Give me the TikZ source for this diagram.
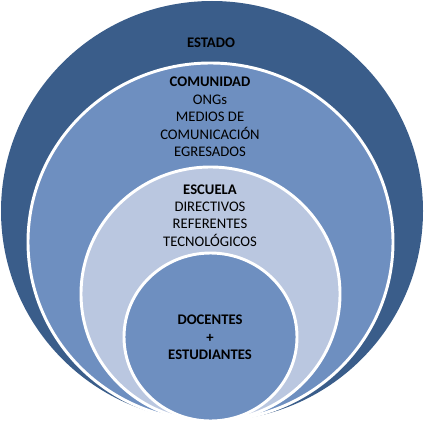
\documentclass[tikz,border=0pt]{standalone}
\usepackage{fontspec}
\setmainfont{Carlito}
\usepackage{tikz}

\definecolor{estadoblue}{HTML}{3A5D8A}
\definecolor{midblue}{HTML}{6E8FC0}
\definecolor{paleblue}{HTML}{BAC7E0}

\tikzset{
  ring/.style={draw=white,line width=2.2pt},
  label/.style={align=center,text=black,font=\fontsize{11}{13.1}\selectfont,inner sep=0pt}
}

\begin{document}
\begin{tikzpicture}[x=0.75pt,y=-0.75pt]
\useasboundingbox (0,0) rectangle (424,424);
% Circles
\fill[estadoblue] (212,211) ellipse [x radius=211,y radius=210];
\filldraw[ring,fill=midblue] (210.5,242) ellipse [x radius=182.5,y radius=179];
\filldraw[ring,fill=paleblue] (210.5,294) ellipse [x radius=129.5,y radius=127];
\filldraw[ring,fill=midblue] (210.5,337) ellipse [x radius=86.5,y radius=84];
% Labels
\node[label] (estado) at (211,43) {\textbf{ESTADO}};
\node[label] (comunidad) at (210,117) {\textbf{COMUNIDAD}\\ONGs\\MEDIOS DE\\COMUNICACIÓN\\EGRESADOS};
\node[label] (escuela) at (210,215.5) {\textbf{ESCUELA}\\DIRECTIVOS\\REFERENTES\\TECNOLÓGICOS};
\node[label] (docentes) at (210,337.5) {\textbf{DOCENTES}\\\textbf{+}\\\textbf{ESTUDIANTES}};
\end{tikzpicture}
\end{document}
